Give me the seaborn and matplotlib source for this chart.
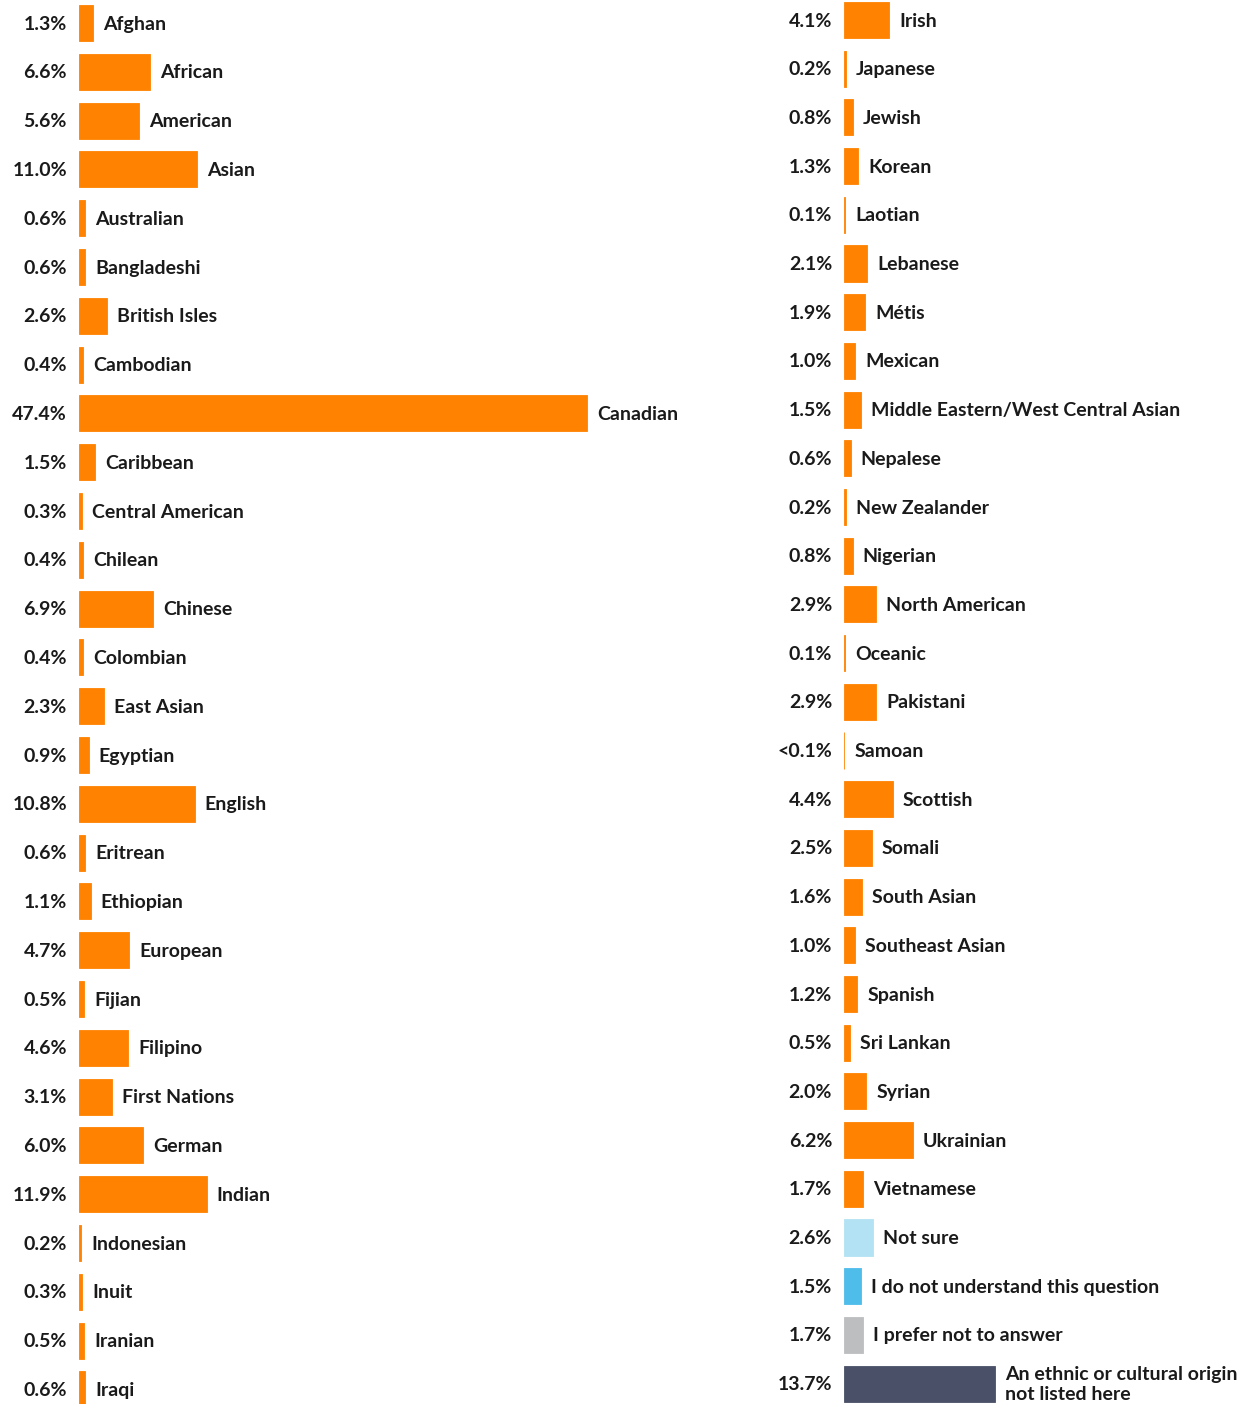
import matplotlib
matplotlib.use('Agg')
import matplotlib.pyplot as plt
import seaborn as sns
import pandas as pd

left_cats = ["Afghan", "African", "American", "Asian", "Australian", "Bangladeshi",
             "British Isles", "Cambodian", "Canadian", "Caribbean", "Central American",
             "Chilean", "Chinese", "Colombian", "East Asian", "Egyptian", "English",
             "Eritrean", "Ethiopian", "European", "Fijian", "Filipino", "First Nations",
             "German", "Indian", "Indonesian", "Inuit", "Iranian", "Iraqi"]
left_vals = [1.3, 6.6, 5.6, 11.0, 0.6, 0.6, 2.6, 0.4, 47.4, 1.5, 0.3, 0.4, 6.9, 0.4,
             2.3, 0.9, 10.8, 0.6, 1.1, 4.7, 0.5, 4.6, 3.1, 6.0, 11.9, 0.2, 0.3, 0.5, 0.6]

right_cats = ["Irish", "Japanese", "Jewish", "Korean", "Laotian", "Lebanese", "Métis",
              "Mexican", "Middle Eastern/West Central Asian", "Nepalese", "New Zealander",
              "Nigerian", "North American", "Oceanic", "Pakistani", "Samoan", "Scottish",
              "Somali", "South Asian", "Southeast Asian", "Spanish", "Sri Lankan", "Syrian",
              "Ukrainian", "Vietnamese", "Not sure", "I do not understand this question",
              "I prefer not to answer", "An ethnic or cultural origin\nnot listed here"]
right_vals = [4.1, 0.2, 0.8, 1.3, 0.1, 2.1, 1.9, 1.0, 1.5, 0.6, 0.2, 0.8, 2.9, 0.1, 2.9,
              0.02, 4.4, 2.5, 1.6, 1.0, 1.2, 0.5, 2.0, 6.2, 1.7, 2.6, 1.5, 1.7, 13.7]
right_pct_labels = ["4.1%", "0.2%", "0.8%", "1.3%", "0.1%", "2.1%", "1.9%", "1.0%", "1.5%",
                    "0.6%", "0.2%", "0.8%", "2.9%", "0.1%", "2.9%", "<0.1%", "4.4%", "2.5%",
                    "1.6%", "1.0%", "1.2%", "0.5%", "2.0%", "6.2%", "1.7%", "2.6%", "1.5%",
                    "1.7%", "13.7%"]

ORANGE = "#FF8200"
special_colors = {"Not sure": "#B3E2F4",
                  "I do not understand this question": "#4FBDEA",
                  "I prefer not to answer": "#BDBEC0",
                  "An ethnic or cultural origin\nnot listed here": "#4A5068"}

sns.set_theme(style="white")
plt.rcParams['font.family'] = ['Lato', 'DejaVu Sans']

W, H = 1247, 1404
fig = plt.figure(figsize=(W / 100, H / 100), dpi=100)
TXT = "#1a1a1a"
FS = 14
PX2PT = 72 / 100


def panel(cats, vals, pct_labels, x0_px, width_px, px_per_unit, first_px, row_px):
    ax = fig.add_axes([x0_px / W, 0, width_px / W, 1])
    df = pd.DataFrame({"cat": cats, "val": vals})
    pal = {c: special_colors.get(c, ORANGE) for c in cats}
    sns.barplot(data=df, x="val", y="cat", hue="cat", palette=pal, width=0.74,
                legend=False, ax=ax, orient="h", saturation=1)
    for patch in ax.patches:
        patch.set_edgecolor(patch.get_facecolor())
        patch.set_linewidth(0.6)
    ax.set_xlim(0, width_px / px_per_unit)
    ax.set_ylim((H - first_px) / row_px, -first_px / row_px)
    ax.axis("off")
    for i, (c, v, p) in enumerate(zip(cats, vals, pct_labels)):
        ax.annotate(p, xy=(0, i), xytext=(-12 * PX2PT, -1 * PX2PT), textcoords="offset points",
                    ha="right", va="center", fontsize=FS, fontweight="bold", color=TXT,
                    annotation_clip=False)
        ax.annotate(c, xy=(v, i), xytext=(10 * PX2PT, -1 * PX2PT), textcoords="offset points",
                    ha="left", va="center", fontsize=FS, fontweight="bold", color=TXT,
                    linespacing=1.2, annotation_clip=False)
    return ax


left_pct = [f"{v:.1f}%" for v in left_vals]
panel(left_cats, left_vals, left_pct, 79, 640, 10.72, 23, 48.8)
panel(right_cats, right_vals, right_pct_labels, 844, 400, 11.05, 20, 48.7)

fig.savefig("out.png", dpi=100, facecolor="white")
